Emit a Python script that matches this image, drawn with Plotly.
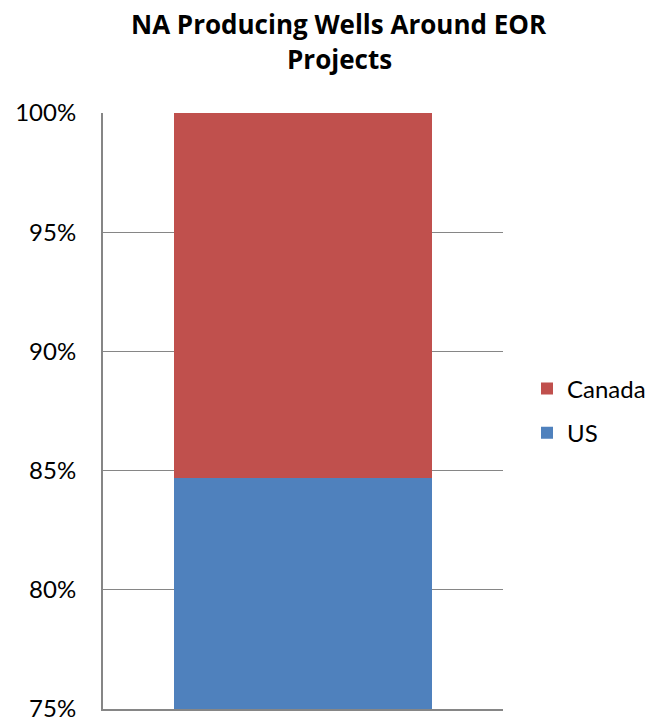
import plotly.graph_objects as go

categories = ["NA"]
us_share = [0.847]
canada_share = [0.153]
tick_vals = [0.75, 0.80, 0.85, 0.90, 0.95, 1.00]
tick_text = ["75%", "80%", "85%", "90%", "95%", "100%"]
title_lines = ["NA Producing Wells Around EOR", "Projects"]

font_family = "Lato, Open Sans, Liberation Sans, sans-serif"
title_family = "Open Sans, Lato, sans-serif"

fig = go.Figure()
fig.add_trace(go.Bar(x=categories, y=us_share, name="US", legendgroup="us", legendrank=2,
                     marker_color="#4F81BD", marker_line_width=0))
fig.add_trace(go.Bar(x=categories, y=canada_share, name="Canada", legendgroup="ca", legendrank=1,
                     marker_color="#C0504D", marker_line_width=0))

plot_top, plot_bottom = 113, 709
plot_h = plot_bottom - plot_top
for line, ypx in zip(title_lines, [24, 59]):
    fig.add_annotation(
        text="<b>%s</b>" % line, xref="paper", yref="paper",
        x=(339 - 103) / 400, y=(plot_bottom - ypx) / plot_h,
        xanchor="center", yanchor="middle", showarrow=False,
        font=dict(family=title_family, size=26, color="black"),
    )

fig.update_layout(
    width=653, height=721,
    barmode="stack",
    bargap=0.355,
    plot_bgcolor="white",
    paper_bgcolor="white",
    margin=dict(l=103, r=150, t=113, b=12, autoexpand=False),
    font=dict(family=font_family, size=24, color="black"),
    showlegend=True,
    legend=dict(
        x=1.06, xanchor="left", y=0.5, yanchor="middle",
        traceorder="grouped",
        font=dict(size=24, color="black"),
        itemwidth=30,
        tracegroupgap=10,
        bgcolor="rgba(0,0,0,0)",
    ),
    xaxis=dict(
        showticklabels=False, showgrid=False,
        showline=True, linecolor="#868686", linewidth=2,
        ticks="",
    ),
    yaxis=dict(
        range=[0.75, 1.0],
        tickvals=tick_vals, ticktext=tick_text,
        showgrid=True, gridcolor="#868686", gridwidth=1,
        showline=True, linecolor="#868686", linewidth=2,
        ticks="", ticklabelstandoff=20,
        ticklabeloverflow="allow",
        zeroline=False,
    ),
)

fig.write_html("out.html")
